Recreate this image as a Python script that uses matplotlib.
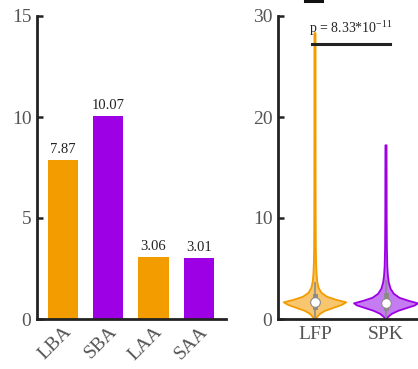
import matplotlib
matplotlib.use("Agg")
import matplotlib.pyplot as plt
import numpy as np
from matplotlib.lines import Line2D

plt.rcParams['font.family'] = ['Liberation Serif', 'DejaVu Serif']

# ---- bar panel data ----
bar_labels = ["LBA", "SBA", "LAA", "SAA"]
bar_values = [7.87, 10.07, 3.06, 3.01]

# ---- violin panel data (density outline: value levels and half-widths) ----
violin_labels = ["LFP", "SPK"]
lfp_levels = [0.0, 0.2, 0.5, 0.8, 1.1, 1.4, 1.65, 1.9, 2.2, 2.6, 3.1, 3.7, 4.5, 5.5, 7.0, 10.0, 15.0, 22.0, 28.3]
lfp_halfw  = [0.01, 0.03, 0.07, 0.14, 0.26, 0.38, 0.44, 0.30, 0.17, 0.09, 0.05, 0.032, 0.022, 0.016, 0.012, 0.01, 0.009, 0.008, 0.008]
spk_levels = [0.0, 0.2, 0.5, 0.8, 1.1, 1.35, 1.55, 1.8, 2.1, 2.5, 3.0, 3.6, 4.3, 5.2, 7.0, 10.0, 14.0, 17.2]
spk_halfw  = [0.01, 0.03, 0.08, 0.17, 0.30, 0.41, 0.45, 0.32, 0.19, 0.11, 0.065, 0.04, 0.027, 0.019, 0.013, 0.01, 0.009, 0.008]
lfp_stats = {"median": 1.65, "q1": 1.2, "q3": 2.3, "lo": 0.2, "hi": 3.6}
spk_stats = {"median": 1.6, "q1": 1.1, "q3": 2.4, "lo": 0.2, "hi": 3.8}
p_text = r"p = 8.33*10$^{\mathregular{-11}}$"
p_level = 27.2

orange = "#F39C00"
purple = "#9E00E6"
orange_fill = "#F7C66E"
purple_fill = "#C47CF0"
spine_col = "#222222"
tick_col = "#555555"

fig = plt.figure(figsize=(4.18, 3.69), dpi=100)

# ---- bar chart ----
ax1 = fig.add_axes([37/418, 1 - 319/369, (226-37)/418, (319-16)/369])
xpos = np.arange(len(bar_values))
colors = [orange, purple, orange, purple]
ax1.bar(xpos, bar_values, width=0.67, color=colors, zorder=2)
for x, v in zip(xpos, bar_values):
    ax1.text(x, v + 0.2, f"{v:.2f}", ha="center", va="bottom", fontsize=10.5,
             color="#222222")
ax1.set_xlim(-0.57, 3.6)
ax1.set_ylim(0, 15)
ax1.set_yticks([0, 5, 10, 15])
ax1.set_xticks(xpos)
ax1.set_xticklabels(bar_labels, rotation=45, ha="right", rotation_mode="anchor")

# ---- violin chart ----
ax2 = fig.add_axes([278/418, 1 - 319/369, (418-278)/418, (319-16)/369])
groups = [(1, lfp_levels, lfp_halfw, orange, orange_fill, lfp_stats),
          (2, spk_levels, spk_halfw, purple, purple_fill, spk_stats)]
for pos, lv, hw, edge, fill, st in groups:
    lv = np.asarray(lv)
    hw = np.asarray(hw)
    xs = np.concatenate([pos - hw, (pos + hw)[::-1]])
    ys = np.concatenate([lv, lv[::-1]])
    ax2.fill(xs, ys, facecolor=fill, edgecolor=edge, lw=1.3, alpha=1.0,
             zorder=2, joinstyle="round")
    ax2.plot([pos, pos], [st["lo"], st["hi"]], color="#8a8a8a", lw=1.2, zorder=4)
    ax2.plot([pos, pos], [st["q1"], st["q3"]], color="#8a8a8a", lw=3.5, zorder=4)
    ax2.plot(pos, st["median"], marker="o", ms=7, mfc="white",
             mec="#8a8a8a", mew=0.8, zorder=5)

ax2.plot([0.96, 2.06], [p_level, p_level], color="#222222", lw=2.2, zorder=6)
ax2.text(1.5, p_level + 0.6, p_text, ha="center", va="bottom", fontsize=10,
         color="#222222")
ax2.set_xlim(0.479, 2.451)
ax2.set_ylim(0, 30)
ax2.set_yticks([0, 10, 20, 30])
ax2.set_xticks([1, 2])
ax2.set_xticklabels(violin_labels)

for ax in (ax1, ax2):
    for side in ("top", "right"):
        ax.spines[side].set_visible(False)
    for side in ("left", "bottom"):
        ax.spines[side].set_linewidth(2.0)
        ax.spines[side].set_color(spine_col)
    ax.tick_params(direction="in", length=4, width=1.8, color=spine_col,
                   labelsize=14, labelcolor=tick_col, pad=3)
    ax.tick_params(axis="y", pad=4)
ax2.tick_params(axis="x", pad=5)

# clipped panel mark at the top edge
fig.add_artist(Line2D([305/418, 322/418], [1 - 1/369, 1 - 1/369],
                      color="#111111", lw=2.2, transform=fig.transFigure))

fig.savefig("out.png", dpi=100)
